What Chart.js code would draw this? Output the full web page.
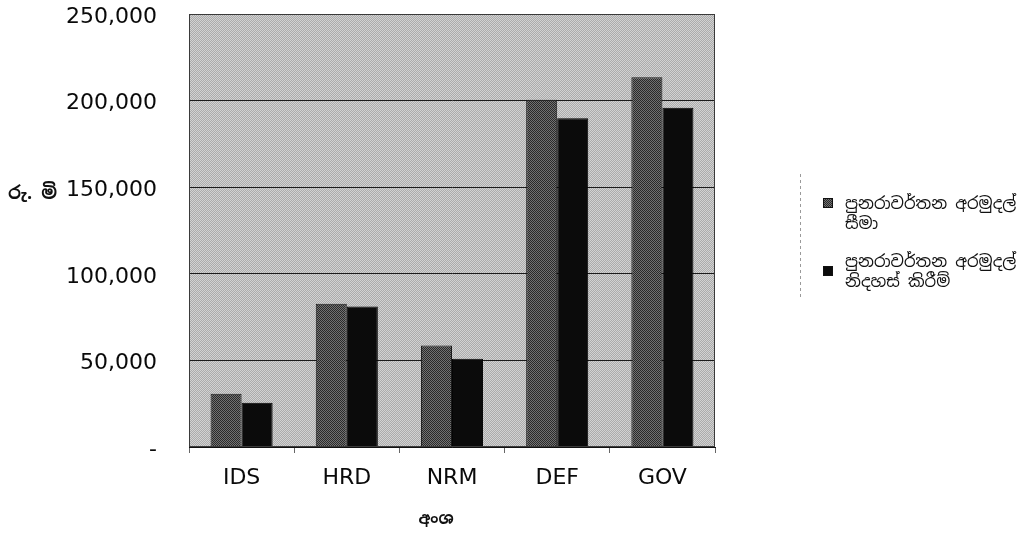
<!DOCTYPE html>
<html>
<head>
<meta charset="utf-8">
<script src="https://cdn.jsdelivr.net/npm/chart.js@4.4.1/dist/chart.umd.min.js"></script>
<style>
  html, body { margin: 0; padding: 0; background: #ffffff; }
  #wrap { width: 1033px; height: 534px; position: relative; }
</style>
</head>
<body>
<div id="wrap"><canvas id="c" width="1033" height="534"></canvas></div>
<script>
// Sector codes along the x axis
const sectors = ['IDS', 'HRD', 'NRM', 'DEF', 'GOV'];
// Recurrent fund limits (Rs. million)
const limitValues = [30700, 82700, 58600, 200500, 213500];
// Recurrent fund releases (Rs. million)
const releaseValues = [25600, 81100, 50900, 189800, 195900];
// Legend text, one array of lines per series
const limitName = ['පුනරාවර්තන අරමුදල්', 'සීමා'];
const releaseName = ['පුනරාවර්තන අරමුදල්', 'නිදහස් කිරීම්'];
// Value axis
const yMin = 0;
const yMax = 250000;
const yStep = 50000;
const yTitle = 'රු. මි';
const xTitle = 'අංශ';

const sinhalaFont = '"Noto Sans Sinhala", "Iskoola Pota", "LKLUG", "Noto Sans", "DejaVu Sans", sans-serif';
const latinFont = '"DejaVu Sans", "Liberation Sans", sans-serif';

// small two-tone tiles give the grainy printed fills
function tile(a, b) {
  const t = document.createElement('canvas');
  t.width = 2; t.height = 2;
  const g = t.getContext('2d');
  g.fillStyle = a; g.fillRect(0, 0, 2, 2);
  g.fillStyle = b; g.fillRect(1, 0, 1, 1); g.fillRect(0, 1, 1, 1);
  return g.createPattern(t, 'repeat');
}
const plotFill = tile('#d2d2d2', '#ababab');
const limitFill = tile('#2a2a2a', '#727272');
const releaseFill = '#0b0b0b';

const plotBackground = {
  id: 'plotBackground',
  beforeDraw(chart) {
    const { ctx, chartArea: a } = chart;
    ctx.save();
    ctx.fillStyle = plotFill;
    ctx.fillRect(a.left, a.top, a.right - a.left, a.bottom - a.top);
    ctx.restore();
  }
};

const frameAndLegend = {
  id: 'frameAndLegend',
  afterDraw(chart) {
    const { ctx, chartArea: a } = chart;
    ctx.save();
    // plot frame
    ctx.strokeStyle = '#3a3a3a';
    ctx.lineWidth = 1;
    ctx.strokeRect(a.left + 0.5, a.top + 0.5, a.right - a.left - 1, a.bottom - a.top - 1);

    // horizontal axis titles
    ctx.fillStyle = '#111';
    ctx.font = 'bold 18px ' + sinhalaFont;
    ctx.textAlign = 'left';
    ctx.textBaseline = 'middle';
    ctx.fillText(yTitle, 8, 194);
    ctx.font = 'bold 16px ' + sinhalaFont;
    ctx.textAlign = 'center';
    ctx.fillText(xTitle, 436, 520);
    ctx.textAlign = 'left';

    // legend frame edge
    ctx.strokeStyle = '#9a9a9a';
    ctx.setLineDash([3, 3]);
    ctx.beginPath();
    ctx.moveTo(800.5, 174);
    ctx.lineTo(800.5, 297);
    ctx.stroke();
    ctx.setLineDash([]);

    // legend entries
    const entries = [
      { ds: chart.data.datasets[0], boxY: 198, lineY: [204, 224] },
      { ds: chart.data.datasets[1], boxY: 266, lineY: [262, 282] }
    ];
    ctx.font = '16.5px ' + sinhalaFont;
    entries.forEach(e => {
      ctx.fillStyle = e.ds.backgroundColor;
      ctx.fillRect(823, e.boxY, 10, 10);
      ctx.strokeStyle = '#111';
      ctx.strokeRect(823.5, e.boxY + 0.5, 9, 9);
      ctx.fillStyle = '#111';
      e.ds.label.forEach((line, i) => ctx.fillText(line, 845, e.lineY[i]));
    });
    ctx.restore();
  }
};

new Chart(document.getElementById('c'), {
  type: 'bar',
  data: {
    labels: sectors,
    datasets: [
      {
        label: limitName,
        data: limitValues,
        backgroundColor: limitFill,
        borderColor: '#1a1a1a',
        borderWidth: 1,
        categoryPercentage: 0.59,
        barPercentage: 1.0
      },
      {
        label: releaseName,
        data: releaseValues,
        backgroundColor: releaseFill,
        borderColor: '#050505',
        borderWidth: 1,
        categoryPercentage: 0.59,
        barPercentage: 1.0
      }
    ]
  },
  options: {
    responsive: false,
    animation: false,
    devicePixelRatio: 1,
    layout: { padding: { left: 0, right: 318, top: 14, bottom: 0 } },
    plugins: {
      legend: { display: false },
      tooltip: { enabled: false },
      title: { display: false }
    },
    scales: {
      x: {
        grid: {
          offset: true,
          drawOnChartArea: false,
          drawTicks: true,
          tickLength: 6,
          color: '#666'
        },
        border: { display: true, color: '#111', width: 1 },
        ticks: {
          color: '#0a0a0a',
          padding: 12,
          font: { family: latinFont, size: 22 }
        },
        afterFit(scale) {
          scale.height = 87;
          scale.paddingLeft = 0;
          scale.paddingRight = 0;
        }
      },
      y: {
        min: yMin,
        max: yMax,
        grid: {
          drawTicks: false,
          color: '#1a1a1a',
          lineWidth: 1
        },
        border: { display: true, color: '#111', width: 1 },
        ticks: {
          stepSize: yStep,
          color: '#0a0a0a',
          padding: 32,
          labelOffset: 3,
          font: { family: latinFont, size: 22 },
          callback: v => v === 0 ? '-' : v.toLocaleString('en-US')
        },
        afterFit(scale) {
          scale.width = 189;
          scale.paddingTop = 0;
          scale.paddingBottom = 0;
        }
      }
    }
  },
  plugins: [plotBackground, frameAndLegend]
});
</script>
</body>
</html>
